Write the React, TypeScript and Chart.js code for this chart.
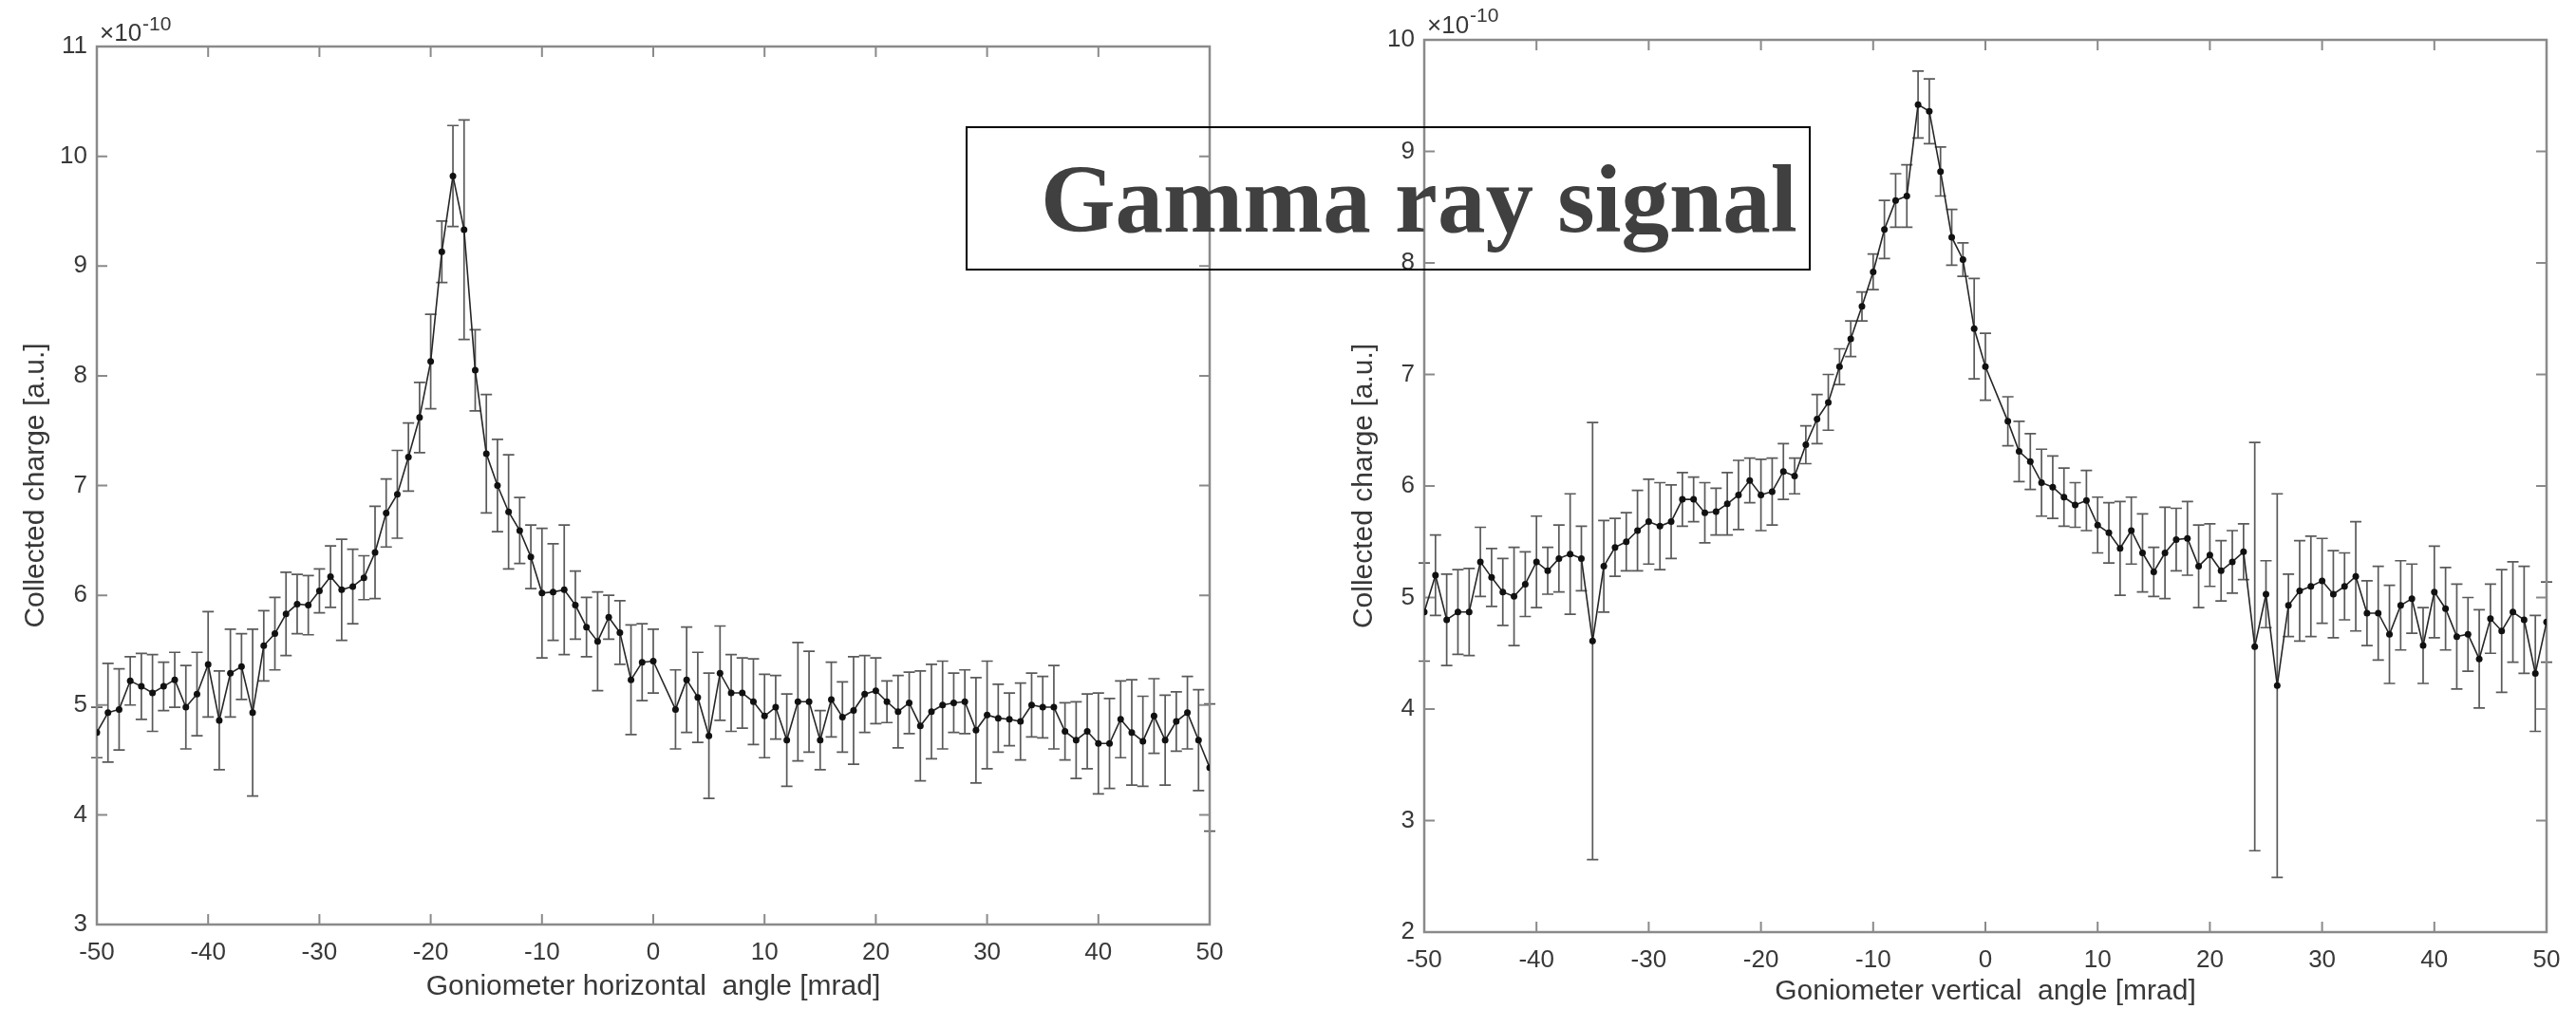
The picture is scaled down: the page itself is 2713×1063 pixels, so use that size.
import React, { useEffect, useRef } from 'react';
import { Chart, registerables } from 'chart.js';

Chart.register(...registerables);

const FONT = '"Liberation Sans", Arial, Helvetica, sans-serif';
const TEXT = '#383838';
const AXIS = '#8a8a8a';
const PAGE_H = 1063;

// goniometer angle [mrad] (no measurement at +1)
const angles = [
  -50, -49, -48, -47, -46, -45, -44, -43, -42, -41,
  -40, -39, -38, -37, -36, -35, -34, -33, -32, -31,
  -30, -29, -28, -27, -26, -25, -24, -23, -22, -21,
  -20, -19, -18, -17, -16, -15, -14, -13, -12, -11,
  -10, -9, -8, -7, -6, -5, -4, -3, -2, -1,
  0,
  2, 3, 4, 5, 6, 7, 8, 9, 10,
  11, 12, 13, 14, 15, 16, 17, 18, 19, 20,
  21, 22, 23, 24, 25, 26, 27, 28, 29, 30,
  31, 32, 33, 34, 35, 36, 37, 38, 39, 40,
  41, 42, 43, 44, 45, 46, 47, 48, 49, 50,
];

// horizontal scan, collected charge (x 1e-10 a.u.)
const horizontalCharge = [
  4.75, 4.93, 4.96, 5.22, 5.17, 5.11, 5.17, 5.23, 4.98, 5.10,
  5.37, 4.86, 5.29, 5.35, 4.93, 5.54, 5.65, 5.83, 5.92, 5.91,
  6.04, 6.17, 6.05, 6.08, 6.16, 6.39, 6.75, 6.92, 7.26, 7.62,
  8.13, 9.13, 9.82, 9.33, 8.05, 7.29, 7.00, 6.76, 6.59, 6.35,
  6.02, 6.03, 6.05, 5.91, 5.71, 5.58, 5.80, 5.66, 5.23, 5.39,
  5.40,
  4.96, 5.23, 5.07, 4.72, 5.29, 5.11, 5.11, 5.03, 4.90,
  4.98, 4.68, 5.03, 5.03, 4.68, 5.05, 4.89, 4.95, 5.10, 5.13,
  5.03, 4.94, 5.02, 4.81, 4.94, 5.00, 5.02, 5.03, 4.77, 4.91,
  4.88, 4.87, 4.85, 5.00, 4.98, 4.98, 4.76, 4.68, 4.76, 4.65,
  4.65, 4.87, 4.75, 4.67, 4.90, 4.68, 4.85, 4.93, 4.68, 4.43,
];

const horizontalError = [
  0.23, 0.45, 0.37, 0.22, 0.30, 0.35, 0.22, 0.25, 0.38, 0.38,
  0.48, 0.45, 0.40, 0.30, 0.76, 0.32, 0.33, 0.38, 0.27, 0.27,
  0.20, 0.28, 0.46, 0.34, 0.20, 0.42, 0.31, 0.40, 0.31, 0.32,
  0.43, 0.28, 0.46, 1.00, 0.37, 0.54, 0.42, 0.52, 0.30, 0.29,
  0.59, 0.44, 0.59, 0.31, 0.27, 0.45, 0.20, 0.29, 0.50, 0.35,
  0.29,
  0.36, 0.48, 0.41, 0.57, 0.43, 0.35, 0.32, 0.39, 0.38,
  0.29, 0.42, 0.54, 0.46, 0.27, 0.34, 0.32, 0.49, 0.35, 0.30,
  0.19, 0.33, 0.28, 0.50, 0.43, 0.40, 0.27, 0.29, 0.48, 0.49,
  0.31, 0.24, 0.35, 0.29, 0.28, 0.38, 0.26, 0.35, 0.34, 0.46,
  0.41, 0.35, 0.48, 0.41, 0.34, 0.41, 0.27, 0.33, 0.46, 0.58,
];

// vertical scan, collected charge (x 1e-10 a.u.)
const verticalCharge = [
  4.87, 5.20, 4.80, 4.87, 4.87, 5.32, 5.18, 5.05, 5.01, 5.12,
  5.32, 5.24, 5.35, 5.39, 5.35, 4.61, 5.28, 5.45, 5.50, 5.60,
  5.68, 5.64, 5.68, 5.88, 5.88, 5.76, 5.77, 5.84, 5.92, 6.05,
  5.92, 5.95, 6.13, 6.09, 6.37, 6.60, 6.75, 7.07, 7.32, 7.61,
  7.92, 8.30, 8.56, 8.60, 9.42, 9.36, 8.82, 8.23, 8.03, 7.41,
  7.07,
  6.58, 6.31, 6.22, 6.03, 5.99, 5.90, 5.83, 5.87, 5.65,
  5.58, 5.44, 5.60, 5.40, 5.23, 5.40, 5.52, 5.53, 5.28, 5.38,
  5.24, 5.32, 5.41, 4.56, 5.03, 4.21, 4.93, 5.06, 5.10, 5.15,
  5.03, 5.10, 5.19, 4.86, 4.86, 4.67, 4.93, 4.99, 4.57, 5.05,
  4.90, 4.65, 4.67, 4.45, 4.81, 4.70, 4.87, 4.80, 4.32, 4.78,
];

const verticalError = [
  0.44, 0.36, 0.41, 0.38, 0.39, 0.31, 0.26, 0.30, 0.44, 0.29,
  0.41, 0.21, 0.30, 0.54, 0.29, 1.96, 0.41, 0.26, 0.26, 0.36,
  0.38, 0.39, 0.33, 0.24, 0.20, 0.27, 0.21, 0.28, 0.31, 0.20,
  0.32, 0.30, 0.25, 0.16, 0.17, 0.22, 0.25, 0.16, 0.16, 0.13,
  0.16, 0.26, 0.24, 0.28, 0.30, 0.29, 0.22, 0.25, 0.15, 0.45,
  0.30,
  0.22, 0.27, 0.25, 0.30, 0.28, 0.26, 0.20, 0.27, 0.25,
  0.27, 0.42, 0.30, 0.35, 0.22, 0.41, 0.28, 0.33, 0.37, 0.28,
  0.27, 0.28, 0.25, 1.83, 0.30, 1.72, 0.28, 0.45, 0.45, 0.38,
  0.39, 0.30, 0.49, 0.29, 0.42, 0.44, 0.40, 0.31, 0.34, 0.41,
  0.37, 0.47, 0.33, 0.44, 0.31, 0.55, 0.45, 0.48, 0.52, 0.36,
];

const xTickValues = [-50, -40, -30, -20, -10, 0, 10, 20, 30, 40, 50];
const horizontalYTicks = [3, 4, 5, 6, 7, 8, 9, 10, 11];
const verticalYTicks = [2, 3, 4, 5, 6, 7, 8, 9, 10];

const xTitleHorizontal = 'Goniometer horizontal  angle [mrad]';
const xTitleVertical = 'Goniometer vertical  angle [mrad]';
const yTitle = 'Collected charge [a.u.]';
const exponentBase = '\u00d710';
const exponentPower = '-10';
const overlayTitle = 'Gamma ray signal';

type Area = { left: number; top: number; right: number; bottom: number };
type PanelProps = {
  left: number;
  width: number;
  area: Area;
  yMin: number;
  yMax: number;
  yTicks: number[];
  charge: number[];
  error: number[];
  xTitle: string;
  xTitlePad: number;
  yTitlePad: number;
  expLift: number;
  supLift: number;
};

function Panel(p: PanelProps) {
  const ref = useRef<HTMLCanvasElement>(null);

  useEffect(() => {
    const canvas = ref.current;
    if (!canvas) return;
    const points = angles.map((x, i) => ({ x, y: p.charge[i] }));

    const errorBars = {
      id: 'errorBars',
      beforeDatasetsDraw(chart: any) {
        const { ctx, scales } = chart;
        const xs = scales.x;
        const ys = scales.y;
        ctx.save();
        ctx.strokeStyle = '#5a5a5a';
        ctx.lineWidth = 1.7;
        points.forEach((pt, i) => {
          const e = p.error[i];
          const px = xs.getPixelForValue(pt.x);
          const top = ys.getPixelForValue(pt.y + e);
          const bot = ys.getPixelForValue(pt.y - e);
          ctx.beginPath();
          ctx.moveTo(px, top);
          ctx.lineTo(px, bot);
          ctx.moveTo(px - 6, top);
          ctx.lineTo(px + 6, top);
          ctx.moveTo(px - 6, bot);
          ctx.lineTo(px + 6, bot);
          ctx.stroke();
        });
        ctx.restore();
      },
    };

    const frame = {
      id: 'matlabFrame',
      beforeDatasetsDraw(chart: any) {
        const { ctx, chartArea: a, scales } = chart;
        ctx.save();
        ctx.strokeStyle = AXIS;
        ctx.lineWidth = 2.5;
        ctx.strokeRect(a.left, a.top, a.right - a.left, a.bottom - a.top);
        ctx.lineWidth = 2;
        const tl = 11;
        ctx.beginPath();
        scales.x.ticks.forEach((t: any) => {
          const px = scales.x.getPixelForValue(t.value);
          ctx.moveTo(px, a.bottom);
          ctx.lineTo(px, a.bottom - tl);
          ctx.moveTo(px, a.top);
          ctx.lineTo(px, a.top + tl);
        });
        scales.y.ticks.forEach((t: any) => {
          const py = scales.y.getPixelForValue(t.value);
          ctx.moveTo(a.left, py);
          ctx.lineTo(a.left + tl, py);
          ctx.moveTo(a.right, py);
          ctx.lineTo(a.right - tl, py);
        });
        ctx.stroke();
        ctx.restore();
      },
      afterDraw(chart: any) {
        const { ctx, chartArea: a } = chart;
        ctx.save();
        ctx.fillStyle = TEXT;
        ctx.textBaseline = 'alphabetic';
        ctx.textAlign = 'left';
        ctx.font = `26px ${FONT}`;
        ctx.fillText(exponentBase, a.left + 3, a.top - p.expLift);
        const w = ctx.measureText(exponentBase).width;
        ctx.font = `21px ${FONT}`;
        ctx.fillText(exponentPower, a.left + 4 + w, a.top - p.supLift);
        ctx.restore();
      },
    };

    const chart = new Chart(canvas, {
      type: 'line',
      data: {
        datasets: [
          {
            data: points,
            borderColor: '#262626',
            borderWidth: 1.6,
            pointRadius: 3.5,
            pointHoverRadius: 3.5,
            pointBackgroundColor: '#111111',
            pointBorderWidth: 0,
            tension: 0,
            fill: false,
          },
        ],
      },
      options: {
        responsive: false,
        animation: false,
        devicePixelRatio: 1,
        events: [],
        layout: {
          padding: { left: 0, top: p.area.top, right: p.width - p.area.right, bottom: 0 },
        },
        plugins: { legend: { display: false }, tooltip: { enabled: false } },
        scales: {
          x: {
            type: 'linear',
            min: -50,
            max: 50,
            grid: { display: false, drawTicks: false },
            border: { display: false },
            ticks: {
              font: { size: 26, family: FONT },
              color: TEXT,
              padding: 14,
              maxRotation: 0,
              autoSkip: false,
            },
            afterBuildTicks: (s: any) => {
              s.ticks = xTickValues.map((v) => ({ value: v }));
            },
            afterFit: (s: any) => {
              s.height = PAGE_H - p.area.bottom;
            },
            title: {
              display: true,
              text: p.xTitle,
              font: { size: 30, family: FONT },
              color: TEXT,
              padding: { top: 0, bottom: p.xTitlePad },
            },
          },
          y: {
            type: 'linear',
            min: p.yMin,
            max: p.yMax,
            grid: { display: false, drawTicks: false },
            border: { display: false },
            ticks: {
              font: { size: 26, family: FONT },
              color: TEXT,
              padding: 10,
              autoSkip: false,
            },
            afterBuildTicks: (s: any) => {
              s.ticks = p.yTicks.map((v) => ({ value: v }));
            },
            afterFit: (s: any) => {
              s.width = p.area.left;
            },
            title: {
              display: true,
              text: yTitle,
              font: { size: 30, family: FONT },
              color: TEXT,
              padding: { top: p.yTitlePad, bottom: 0 },
            },
          },
        },
      },
      plugins: [errorBars, frame],
    } as any);

    return () => chart.destroy();
  }, []);

  return (
    <canvas
      ref={ref}
      width={p.width}
      height={PAGE_H}
      style={{ position: 'absolute', left: p.left, top: 0, width: p.width, height: PAGE_H }}
    />
  );
}

export default function App() {
  return (
    <div
      style={{
        position: 'absolute',
        left: 0,
        top: 0,
        width: 2713,
        height: PAGE_H,
        background: '#ffffff',
        overflow: 'hidden',
      }}
    >
      <Panel
        left={0}
        width={1380}
        area={{ left: 102, top: 49, right: 1274, bottom: 974 }}
        yMin={3}
        yMax={11}
        yTicks={horizontalYTicks}
        charge={horizontalCharge}
        error={horizontalError}
        xTitle={xTitleHorizontal}
        xTitlePad={5}
        yTitlePad={20}
        expLift={6}
        supLift={17}
      />
      <Panel
        left={1380}
        width={1333}
        area={{ left: 120, top: 42, right: 1302, bottom: 982 }}
        yMin={2}
        yMax={10}
        yTicks={verticalYTicks}
        charge={verticalCharge}
        error={verticalError}
        xTitle={xTitleVertical}
        xTitlePad={0}
        yTitlePad={39}
        expLift={7}
        supLift={19}
      />
      <div
        style={{
          position: 'absolute',
          left: 1017,
          top: 133,
          width: 890,
          height: 152,
          border: '2.5px solid #000',
          boxSizing: 'border-box',
        }}
      />
      <div
        style={{
          position: 'absolute',
          left: 1096,
          top: 160,
          font: 'bold 101px "Liberation Serif", "DejaVu Serif", serif',
          lineHeight: '101px',
          color: '#404040',
          whiteSpace: 'nowrap',
        }}
      >
        {overlayTitle}
      </div>
    </div>
  );
}
